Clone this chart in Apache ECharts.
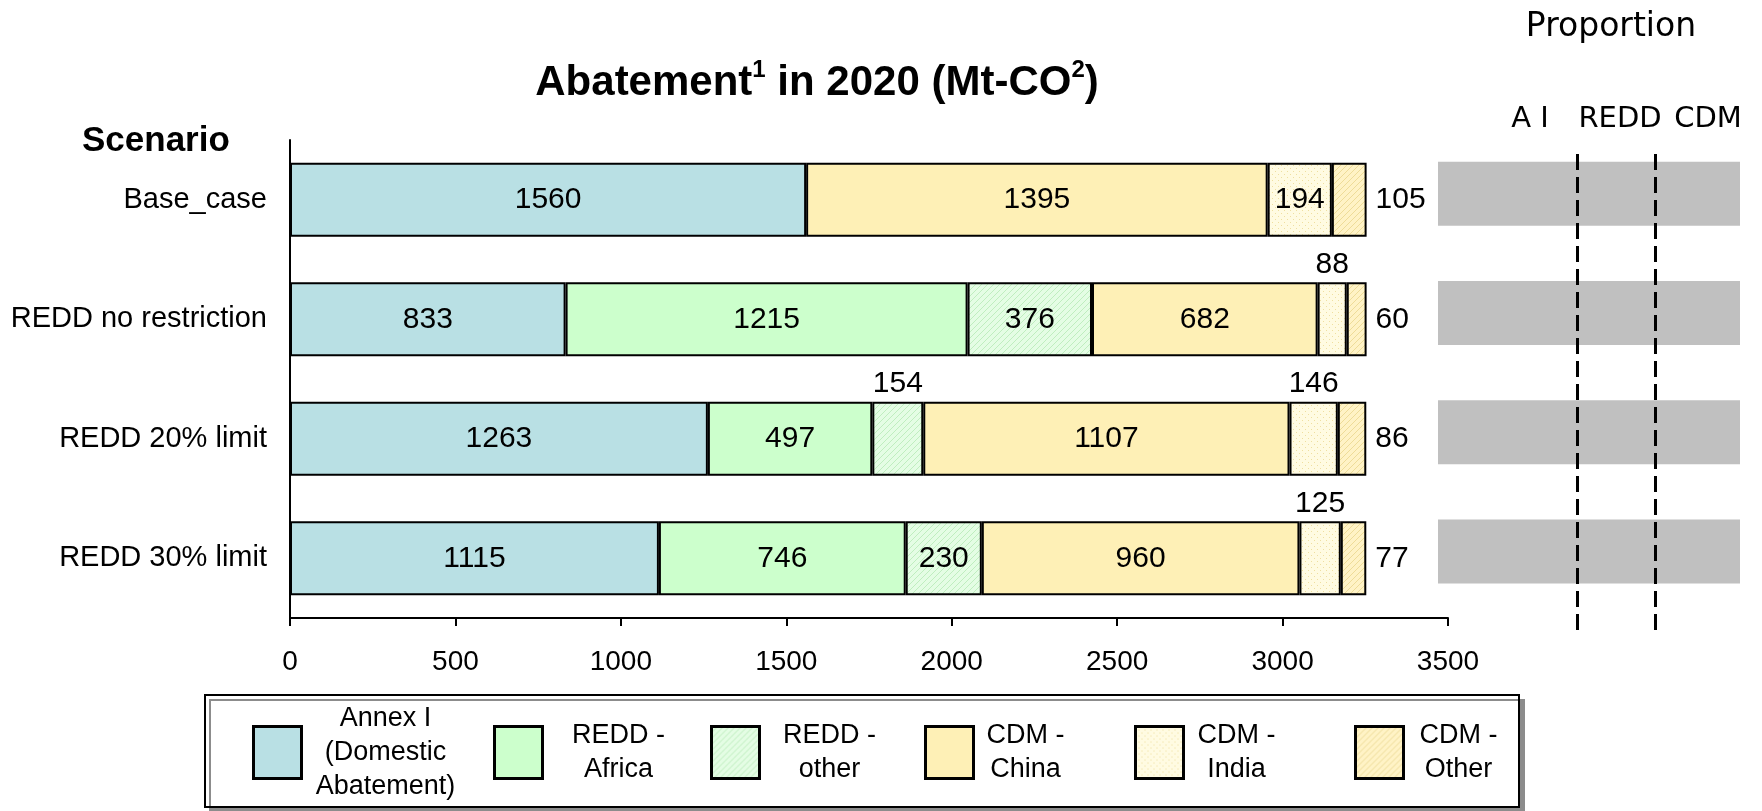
<!DOCTYPE html>
<html>
<head>
<meta charset="utf-8">
<title>Abatement in 2020</title>
<script src="https://cdn.jsdelivr.net/npm/echarts@6/dist/echarts.min.js"></script>
<style>
    html, body {margin: 0; padding: 0; background: #fff;}
    #main {width: 1762px; height: 811px;}
</style>
</head>
<body>
<div id="main"></div>
<script>
// data
const categories = ['Base_case', 'REDD no restriction', 'REDD 20% limit', 'REDD 30% limit'];
const annexI = [1560, 833, 1263, 1115];
const reddAfrica = [null, 1215, 497, 746];
const reddOther = [null, 376, 154, 230];
const cdmChina = [1395, 682, 1107, 960];
const cdmIndia = [194, 88, 146, 125];
const cdmOther = [105, 60, 86, 77];
const xMax = 3500;
const xStep = 500;
const proportionFill = [1, 1, 1, 1];
const proportionBreaks = [0.46, 0.72];
const proportionHeads = ['A I', 'REDD', 'CDM'];

const font = "'Liberation Sans', Arial, sans-serif";
const wideFont = "'DejaVu Sans', Verdana, sans-serif";

// small fill patterns for the hatched segments
function pattern(bg, fg, kind) {
    const c = document.createElement('canvas');
    c.width = 6;
    c.height = 6;
    const ctx = c.getContext('2d');
    ctx.fillStyle = bg;
    ctx.fillRect(0, 0, 6, 6);
    ctx.fillStyle = fg;
    if (kind === 'dots') {
        ctx.fillRect(0, 0, 1, 1);
        ctx.fillRect(3, 3, 1, 1);
    } else {
        for (let i = 0; i < 6; i++) {
            ctx.fillRect(i, 5 - i, 1, 1);
        }
    }
    return {image: c, repeat: 'repeat'};
}

const parts = [
    {name: 'Annex I\n(Domestic\nAbatement)', data: annexI, color: '#b9e0e4', place: 'auto'},
    {name: 'REDD -\nAfrica', data: reddAfrica, color: '#ccffcc', place: 'auto'},
    {name: 'REDD -\nother', data: reddOther, color: pattern('#e4fde4', '#bfeebf', 'hatch'), place: 'auto'},
    {name: 'CDM -\nChina', data: cdmChina, color: '#fef0b6', place: 'auto'},
    {name: 'CDM -\nIndia', data: cdmIndia, color: pattern('#fffbe2', '#efdfa0', 'dots'), place: 'auto'},
    {name: 'CDM -\nOther', data: cdmOther, color: pattern('#fff3c6', '#eedc98', 'hatch'), place: 'right'}
];

const legendLeft = [252, 493, 710, 924, 1134, 1354];
const legendTextWidth = [158, 142, 130, 94, 96, 100];

const labelBase = {show: true, color: '#000', fontSize: 30, fontFamily: font};

const barSeries = parts.map(function (p) {
    return {
        name: p.name,
        type: 'bar',
        stack: 'total',
        barWidth: 74,
        xAxisIndex: 0,
        yAxisIndex: 0,
        itemStyle: {color: p.color, borderColor: '#000', borderWidth: 2},
        label: p.place === 'right'
            ? Object.assign({position: 'right', distance: 9}, labelBase)
            : Object.assign({position: 'inside'}, labelBase),
        data: p.data.map(function (v) {
            if (v !== null && p.place === 'auto' && v < 180) {
                return {value: v, label: {position: 'top', distance: 3}};
            }
            return v;
        })
    };
});

const legends = parts.map(function (p, i) {
    const lines = p.name.split('\n').length;
    const h = Math.max(52, lines * 34);
    const rich = {};
    rich['c' + i] = {width: legendTextWidth[i], align: 'center', fontSize: 27, lineHeight: 34, color: '#000', fontFamily: font};
    return {
        data: [p.name],
        left: legendLeft[i],
        top: 756 - h / 2,
        padding: 0,
        itemWidth: 48,
        itemHeight: 52,
        itemGap: 0,
        icon: 'rect',
        selectedMode: false,
        itemStyle: {borderColor: '#000', borderWidth: 3},
        formatter: function (name) {
            return name.split('\n').map(function (s) {
                return '{c' + i + '|' + s + '}';
            }).join('\n');
        },
        textStyle: {rich: rich}
    };
});

const headLeft = [1530, 1620, 1708];

const chart = echarts.init(document.getElementById('main'));
chart.setOption({
    backgroundColor: '#fff',
    animation: false,
    title: [
        {
            text: '{t|Abatement}{s|1}{t| in 2020 (Mt-CO}{s|2}{t|)}',
            left: 817,
            top: 58,
            textAlign: 'center',
            padding: 0,
            textStyle: {
                rich: {
                    t: {fontSize: 42, fontWeight: 'bold', fontFamily: font, color: '#000', lineHeight: 50},
                    s: {fontSize: 24, fontWeight: 'bold', fontFamily: font, color: '#000', verticalAlign: 'top', lineHeight: 50, padding: [0, 0, 18, 0]}
                }
            }
        },
        {
            text: 'Scenario',
            left: 82,
            top: 124,
            padding: 0,
            textStyle: {fontSize: 35, fontWeight: 'bold', fontFamily: font, color: '#000'}
        },
        {
            text: 'Proportion',
            left: 1611,
            top: 11,
            textAlign: 'center',
            padding: 0,
            textStyle: {fontSize: 33, fontWeight: 'normal', fontFamily: wideFont, color: '#000'}
        }
    ].concat(proportionHeads.map(function (h, i) {
        return {
            text: h,
            left: headLeft[i],
            top: 105,
            textAlign: 'center',
            padding: 0,
            textStyle: {fontSize: 29, fontWeight: 'normal', fontFamily: wideFont, color: '#000'}
        };
    })),
    legend: legends,
    graphic: [{
        type: 'rect',
        z: 1,
        shape: {x: 205, y: 695, width: 1314, height: 112},
        style: {fill: '#fff', stroke: '#000', lineWidth: 2, shadowColor: '#8c8c8c', shadowOffsetX: 5, shadowOffsetY: 5}
    }],
    grid: [
        {left: 290, right: 314, top: 140, bottom: 193},
        {left: 1438, right: 22, top: 134, bottom: 200},
        {left: 1438, right: 22, top: 154, bottom: 179}
    ],
    xAxis: [
        {
            gridIndex: 0,
            type: 'value',
            min: 0,
            max: xMax,
            interval: xStep,
            splitLine: {show: false},
            axisLine: {show: true, lineStyle: {color: '#000', width: 2}},
            axisTick: {show: true, inside: false, length: 8, lineStyle: {color: '#000', width: 2}},
            axisLabel: {color: '#000', fontSize: 28, fontFamily: font, margin: 30, formatter: function (v) { return String(v); }}
        },
        {gridIndex: 1, type: 'value', min: 0, max: 1, show: false},
        {gridIndex: 2, type: 'value', min: 0, max: 1, show: false}
    ],
    yAxis: [
        {
            gridIndex: 0,
            type: 'category',
            data: categories,
            inverse: true,
            axisLine: {show: true, lineStyle: {color: '#000', width: 2}},
            axisTick: {show: false},
            axisLabel: {color: '#000', fontSize: 29, fontFamily: font, margin: 23}
        },
        {gridIndex: 1, type: 'category', data: categories, inverse: true, show: false},
        {gridIndex: 2, type: 'category', data: categories, inverse: true, show: false}
    ],
    series: barSeries.concat([
        {
            name: 'proportion',
            type: 'bar',
            xAxisIndex: 1,
            yAxisIndex: 1,
            barWidth: 64,
            silent: true,
            itemStyle: {color: '#c0c0c0'},
            data: proportionFill
        },
        {
            name: 'breaks',
            type: 'line',
            xAxisIndex: 2,
            yAxisIndex: 2,
            data: [],
            silent: true,
            markLine: {
                symbol: 'none',
                silent: true,
                label: {show: false},
                lineStyle: {color: '#000', width: 3, type: [16, 7]},
                data: proportionBreaks.map(function (b) {
                    return {xAxis: b};
                })
            }
        }
    ])
});
</script>
</body>
</html>
